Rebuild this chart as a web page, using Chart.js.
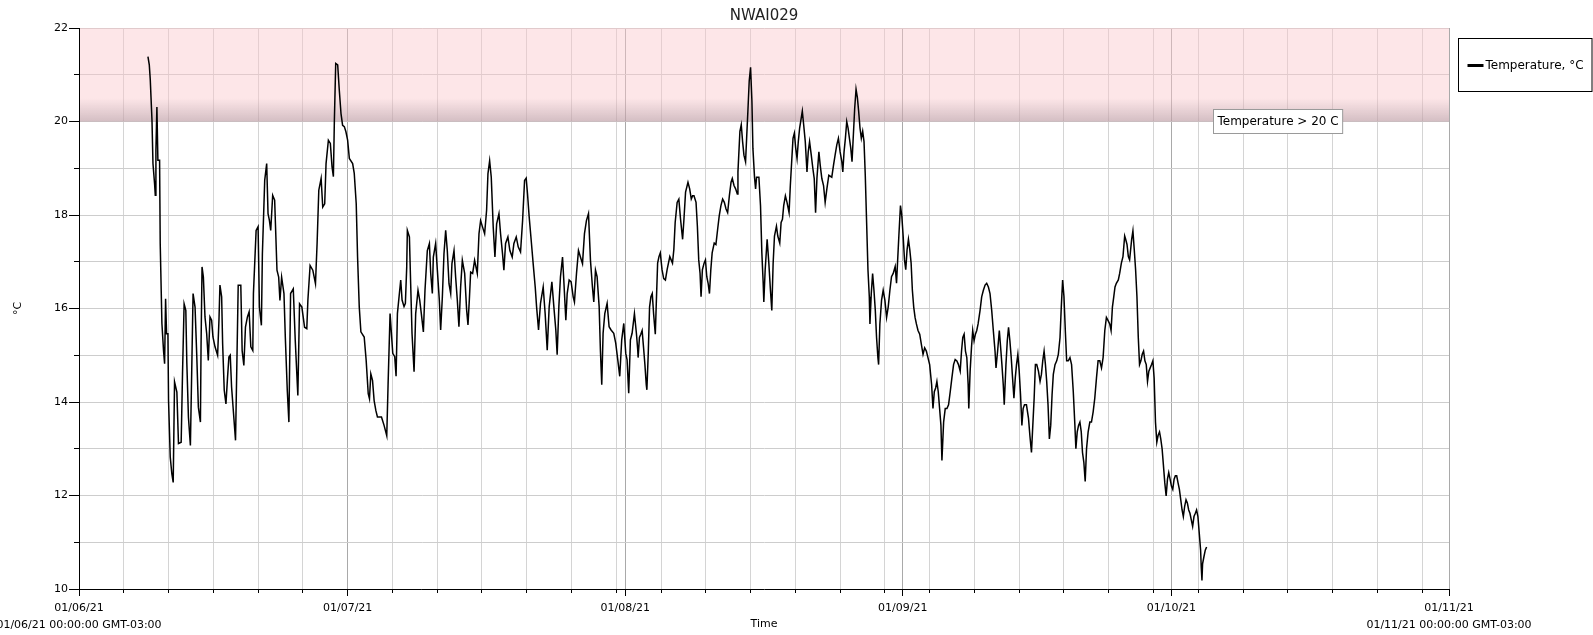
<!DOCTYPE html>
<html>
<head>
<meta charset="utf-8">
<title>NWAI029</title>
<script src="https://cdn.jsdelivr.net/npm/chart.js@4.4.1/dist/chart.umd.min.js"></script>
<style>
  html, body { margin: 0; padding: 0; background: #fff; }
  #wrap { width: 1593px; height: 635px; position: relative; }
</style>
</head>
<body>
<div id="wrap"><canvas id="tempChart"></canvas></div>
<script>
const chartTitle = 'NWAI029';
const seriesLabel = 'Temperature, °C';
const thresholdText = 'Temperature > 20 C';
const thresholdValue = 20;
const yMin = 10;
const yMax = 22;

// x values are days since 01/06/21 00:00 (GMT-03:00)
const monthDays = [0, 30, 61, 92, 122, 153];
const monthLabels = ['01/06/21', '01/07/21', '01/08/21', '01/09/21', '01/10/21', '01/11/21'];
const edgeLabels = ['01/06/21 00:00:00 GMT-03:00', '01/11/21 00:00:00 GMT-03:00'];
const gridDays = [0, 5, 10, 15, 20, 25, 30, 35, 40, 45, 50, 55, 60, 65, 70, 75, 80, 85, 90, 95, 100, 105, 110, 115, 120, 125, 130, 135, 140, 145, 150];

const days = [
  7.70, 7.85, 7.96, 8.15, 8.26, 8.44, 8.52, 8.59, 8.70, 8.81, 9.00, 9.07, 9.26, 9.44, 9.56, 9.67, 9.78, 9.93,
  10.00, 10.19, 10.37, 10.52, 10.67, 10.93, 11.11, 11.41, 11.56, 11.74, 11.93, 12.04, 12.22, 12.44, 12.59, 12.74, 12.96,
  13.15, 13.33, 13.56, 13.63, 13.74, 13.89, 14.07, 14.26, 14.44, 14.63, 14.81, 14.96, 15.19, 15.48, 15.63, 15.74, 15.93,
  16.04, 16.22, 16.41, 16.59, 16.74, 16.89, 17.04, 17.26, 17.48, 17.63, 17.78, 18.07, 18.22, 18.41, 18.59, 18.81, 19.00,
  19.19, 19.41, 19.48, 19.78, 20.00, 20.15, 20.37, 20.48, 20.74, 20.96, 21.11, 21.26, 21.41, 21.63, 21.85, 22.11, 22.30,
  22.44, 22.63, 22.89, 23.04, 23.26, 23.44, 23.63, 23.93, 24.15, 24.44, 24.63, 24.89, 25.19, 25.44, 25.56, 25.81, 26.11,
  26.41, 26.59, 26.78, 27.04, 27.22, 27.44, 27.59, 27.85, 28.07, 28.26, 28.41, 28.52, 28.67, 28.89, 29.07, 29.26, 29.44,
  29.63, 29.81, 30.00, 30.19, 30.56, 30.74, 30.96, 31.11, 31.30, 31.48, 31.85, 32.07, 32.30, 32.44, 32.59, 32.78, 32.96,
  33.15, 33.33, 33.78, 34.07, 34.37, 34.52, 34.74,
  35.04, 35.26, 35.41, 35.56, 35.78, 35.93, 36.08, 36.30, 36.45, 36.60, 36.67, 36.90, 37.04, 37.19, 37.42, 37.60, 37.86,
  38.05, 38.23, 38.46, 38.64, 38.90, 39.13, 39.28, 39.46, 39.57, 39.83, 40.02, 40.24, 40.39, 40.58, 40.76, 40.95, 41.13,
  41.32, 41.51, 41.65, 41.88, 42.06, 42.25, 42.43, 42.62, 42.81, 43.07, 43.29, 43.44, 43.59, 43.74, 43.96, 44.18, 44.33,
  44.48, 44.67, 44.85, 45.07, 45.30, 45.52, 45.67, 45.86, 46.04, 46.26, 46.45, 46.64, 46.90, 47.08, 47.30, 47.45, 47.64,
  47.90, 48.12, 48.38, 48.57, 48.83, 49.05, 49.31, 49.54, 49.76, 49.94, 50.09, 50.28, 50.50, 50.72, 50.95, 51.10, 51.32,
  51.54, 51.84, 52.06, 52.29, 52.51, 52.81, 53.03, 53.25, 53.40, 53.59, 53.77, 54.00, 54.14, 54.37, 54.52, 54.74, 54.96,
  55.19, 55.33, 55.56, 55.78, 56.00, 56.23, 56.45, 56.67, 56.90, 57.12, 57.34, 57.49, 57.68, 57.86, 58.09, 58.23, 58.38,
  58.53, 58.72, 58.98, 59.20, 59.42, 59.72, 59.94, 60.17, 60.39, 60.61, 60.84, 61.06, 61.21, 61.39, 61.58, 61.77, 62.03,
  62.25, 62.40,
  62.44, 62.59, 62.74, 62.89, 63.05, 63.20, 63.35, 63.42, 63.57, 63.72, 63.87, 64.02, 64.17, 64.36, 64.47, 64.62, 64.77,
  64.92, 65.11, 65.30, 65.49, 65.68, 65.98, 66.13, 66.28, 66.43, 66.58, 66.80, 66.99, 67.18, 67.41, 67.56, 67.74, 68.01,
  68.20, 68.38, 68.53, 68.68, 68.91, 69.06, 69.21, 69.36, 69.47, 69.62, 69.81, 69.96, 70.11, 70.26, 70.41, 70.56, 70.71,
  70.94, 71.13, 71.32, 71.50, 71.69, 71.88, 72.07, 72.26, 72.44, 72.63, 72.82,
  72.96, 73.15, 73.33, 73.52, 73.59, 73.81, 73.96, 74.11, 74.26, 74.44, 74.56, 74.70, 74.85, 75.00, 75.15, 75.26, 75.44,
  75.56, 75.67, 75.93, 76.11, 76.26, 76.41, 76.48, 76.63, 76.85, 77.04, 77.22, 77.37, 77.52, 77.67, 77.89, 78.04, 78.26,
  78.41, 78.56, 78.70, 78.89, 79.07, 79.30, 79.44, 79.59, 79.74, 79.89, 80.04, 80.19, 80.33, 80.48, 80.63, 80.78, 80.93,
  81.11, 81.30, 81.44, 81.59, 81.78, 81.96, 82.11, 82.26, 82.41, 82.63, 82.78, 82.96, 83.15, 83.33, 83.52, 83.74,
  84.07, 84.26, 84.44, 84.63, 84.81, 85.00, 85.19, 85.30, 85.44, 85.59, 85.74, 85.89, 86.04, 86.19, 86.33, 86.48, 86.63,
  86.78, 86.93, 87.07, 87.22, 87.37, 87.52, 87.67, 87.81, 87.96, 88.11, 88.26, 88.33, 88.48, 88.63, 88.78, 88.93, 89.07,
  89.22, 89.30, 89.44, 89.63, 89.81, 90.00, 90.19, 90.37, 90.56, 90.74, 90.93, 91.15, 91.30, 91.41, 91.56, 91.74, 91.89,
  92.04, 92.19, 92.33, 92.48, 92.63, 92.78, 92.93, 93.07, 93.22, 93.37, 93.52, 93.70, 93.89, 94.07, 94.26, 94.44, 94.63,
  94.81, 95.00,
  95.22, 95.37, 95.52, 95.67, 95.81, 95.96, 96.11, 96.26, 96.37, 96.56, 96.74, 96.93, 97.11, 97.30, 97.48, 97.67, 97.85,
  98.04, 98.22, 98.41, 98.56, 98.70, 98.85, 99.00, 99.15, 99.30, 99.37, 99.52, 99.67, 99.81, 99.96, 100.11, 100.26, 100.41,
  100.63, 100.81, 101.00, 101.19, 101.37, 101.56, 101.74, 101.93, 102.11, 102.30, 102.41, 102.59, 102.78, 102.93, 103.07,
  103.22, 103.33, 103.52, 103.67, 103.81, 103.96, 104.11, 104.26, 104.41, 104.56, 104.70, 104.85, 105.00, 105.15, 105.30,
  105.44, 105.59, 105.81, 106.04, 106.19,
  106.37, 106.52, 106.67, 106.81, 106.96, 107.15, 107.33, 107.48, 107.63, 107.78, 107.93, 108.07, 108.22, 108.37, 108.52,
  108.67, 108.81, 109.00, 109.19, 109.37, 109.56, 109.70, 109.85, 110.00, 110.15, 110.30, 110.48, 110.67, 110.85, 111.04,
  111.22, 111.33, 111.48, 111.63, 111.78, 111.93, 112.07, 112.22, 112.37, 112.52, 112.70, 112.89, 113.07, 113.26, 113.44,
  113.63, 113.81, 114.00, 114.19, 114.37, 114.56, 114.74, 114.93, 115.11, 115.26, 115.41, 115.56, 115.70, 115.85, 116.07,
  116.22, 116.41, 116.59, 116.78, 116.89, 117.04, 117.19, 117.33,
  117.56, 117.70, 117.85, 118.00, 118.15, 118.30, 118.44, 118.59, 118.74, 118.89, 119.04, 119.19, 119.33, 119.48, 119.63,
  119.78, 119.93, 120.07, 120.22, 120.37, 120.52, 120.67, 120.81, 120.96, 121.11, 121.26, 121.41, 121.56, 121.70, 121.85,
  122.00, 122.15, 122.30, 122.44, 122.59, 122.74, 122.89, 123.04, 123.19, 123.33, 123.48, 123.63, 123.78, 123.93, 124.07,
  124.22, 124.37, 124.52, 124.67, 124.81, 124.96, 125.11, 125.26, 125.33, 125.41, 125.48, 125.63, 125.78, 125.93
];

const temps = [
  21.39, 21.21, 20.89, 20.03, 19.10, 18.67, 18.42, 19.39, 20.31, 19.17, 19.17, 17.39, 15.68, 15.10, 14.82, 16.21, 15.46, 15.46,
  14.03, 12.82, 12.46, 12.28, 14.43, 14.21, 13.11, 13.14, 14.60, 16.10, 15.96, 14.85, 13.68, 13.07, 14.68, 16.32, 16.03,
  15.00, 13.89, 13.57, 15.18, 16.89, 16.67, 15.82, 15.46, 14.89, 15.82, 15.75, 15.39, 15.18, 15.00, 15.75, 16.50, 16.25,
  15.25, 14.25, 13.96, 14.53, 14.96, 15.00, 14.32, 13.75, 13.18, 14.82, 16.50, 16.50, 15.10, 14.78, 15.60, 15.82, 15.93,
  15.18, 15.10, 16.32, 17.67, 17.75, 16.03, 15.64, 17.17, 18.74, 19.10, 18.03, 17.89, 17.67, 18.42, 18.32, 16.82, 16.67,
  16.17, 16.67, 16.32, 15.39, 14.25, 13.57, 16.32, 16.42, 15.32, 14.14, 16.10, 16.03, 15.60, 15.57, 16.17, 16.92, 16.82,
  16.53, 17.39, 18.53, 18.78, 18.17, 18.24, 19.10, 19.60, 19.53, 19.03, 18.82, 20.03, 21.24, 21.21, 20.67, 20.17, 19.92,
  19.89, 19.78, 19.60, 19.21, 19.10, 18.89, 18.24, 17.10, 16.03, 15.50, 15.39, 14.89, 14.18, 14.07, 14.60, 14.46, 14.03,
  13.82, 13.68, 13.68, 13.50, 13.28, 14.39, 15.89,
  15.04, 14.97, 14.55, 15.89, 16.32, 16.61, 16.18, 16.04, 16.11, 16.89, 17.67, 17.53, 16.53, 15.47, 14.65, 15.89, 16.39,
  16.18, 15.89, 15.50, 16.39, 17.24, 17.39, 16.75, 16.32, 17.10, 17.39, 16.82, 16.18, 15.54, 16.25, 17.17, 17.67, 17.24,
  16.53, 16.32, 16.96, 17.24, 16.68, 16.18, 15.61, 16.46, 17.03, 16.75, 15.97, 15.65, 16.18, 16.78, 16.75, 17.03, 16.89,
  16.75, 17.60, 17.88, 17.74, 17.60, 18.10, 18.88, 19.16, 18.81, 17.74, 17.10, 17.81, 18.03, 17.60, 17.17, 16.82, 17.39,
  17.53, 17.24, 17.10, 17.39, 17.53, 17.32, 17.21, 17.88, 18.74, 18.79, 18.45, 17.95, 17.46, 16.96, 16.46, 16.04, 15.54,
  16.11, 16.46, 15.89, 15.11, 16.04, 16.57, 16.04, 15.54, 15.01, 16.04, 16.68, 17.10, 16.61, 15.75, 16.32, 16.61, 16.57,
  16.25, 16.14, 16.75, 17.24, 17.10, 16.96, 17.60, 17.88, 18.03, 17.03, 16.46, 16.14, 16.82, 16.68, 16.04, 15.11, 14.37,
  15.47, 15.89, 16.11, 15.61, 15.54, 15.47, 15.26, 14.90, 14.55, 15.33, 15.68, 15.04, 14.90, 14.19, 15.33, 15.47, 15.89,
  15.47, 15.11,
  14.95, 15.38, 15.45, 15.53, 15.16, 14.80, 14.37, 14.26, 15.02, 16.03, 16.25, 16.32, 15.89, 15.45, 16.10, 16.97, 17.11,
  17.19, 16.83, 16.64, 16.61, 16.83, 17.11, 17.04, 16.97, 17.26, 17.84, 18.27, 18.34, 17.91, 17.48, 17.91, 18.49, 18.70,
  18.56, 18.34, 18.41, 18.41, 18.27, 17.76, 17.04, 16.75, 16.25, 16.83, 16.97, 17.04, 16.68, 16.54, 16.32, 16.83, 17.19,
  17.40, 17.37, 17.69, 17.98, 18.20, 18.34, 18.27, 18.13, 18.05, 18.41, 18.70,
  18.78, 18.63, 18.56, 18.45, 18.92, 19.79, 19.93, 19.57, 19.28, 19.14, 19.64, 20.22, 20.87, 21.16, 20.44, 19.43, 18.81,
  18.56, 18.81, 18.81, 18.20, 17.19, 16.54, 16.14, 16.83, 17.48, 16.97, 16.39, 15.96, 16.97, 17.55, 17.76, 17.55, 17.40,
  17.84, 17.91, 18.20, 18.41, 18.27, 18.05, 18.63, 19.14, 19.64, 19.75, 19.43, 19.21, 19.57, 19.86, 20.04, 20.22, 19.93,
  19.57, 18.92, 19.35, 19.57, 19.28, 18.99, 18.78, 18.05, 18.78, 19.35, 19.06, 18.78, 18.63, 18.27, 18.56, 18.85,
  18.81, 19.06, 19.28, 19.50, 19.64, 19.35, 19.14, 18.92, 19.35, 19.64, 20.00, 19.86, 19.64, 19.43, 19.14, 19.71, 20.29,
  20.69, 20.51, 20.22, 19.86, 19.64, 19.79, 19.57, 18.85, 17.84, 16.83, 16.25, 15.67, 16.32, 16.75, 16.39, 15.96, 15.38,
  14.95, 14.80, 15.67, 16.18, 16.39, 16.18, 15.81, 16.03, 16.39, 16.68, 16.75, 16.90, 16.54, 16.97, 17.55, 18.20, 17.98,
  17.55, 17.04, 16.83, 17.26, 17.48, 17.26, 16.97, 16.39, 16.03, 15.81, 15.67, 15.53, 15.45, 15.24, 15.02, 15.16, 15.09,
  14.95, 14.80,
  14.37, 13.86, 14.22, 14.30, 14.44, 14.22, 13.86, 13.50, 12.75, 13.57, 13.86, 13.86, 13.94, 14.22, 14.51, 14.80, 14.91,
  14.88, 14.80, 14.66, 15.09, 15.38, 15.45, 15.09, 14.95, 14.37, 13.86, 14.66, 15.16, 15.53, 15.31, 15.45, 15.53, 15.67,
  15.96, 16.25, 16.39, 16.50, 16.54, 16.46, 16.32, 15.96, 15.53, 15.09, 14.73, 15.09, 15.53, 15.16, 14.80,
  14.37, 13.94, 14.80, 15.31, 15.60, 15.31, 14.95, 14.51, 14.08, 14.51, 14.80, 15.02, 14.66, 14.15, 13.50,
  13.86, 13.94, 13.94, 13.65, 13.29,
  12.92, 13.50, 14.08, 14.80, 14.80, 14.66, 14.44, 14.59, 14.88, 15.09, 14.80, 14.44, 13.94, 13.21, 13.50,
  14.15, 14.59, 14.80, 14.88, 15.02, 15.38, 16.03, 16.61, 16.25, 15.53, 14.88, 14.88, 14.95, 14.80, 14.22,
  13.50, 13.00, 13.36, 13.50, 13.57, 13.36, 12.92, 12.71, 12.30, 13.00, 13.36, 13.57, 13.57, 13.79, 14.08,
  14.51, 14.88, 14.88, 14.73, 14.95, 15.53, 15.81, 15.74, 15.67, 15.53, 16.03, 16.25, 16.46, 16.54, 16.61,
  16.75, 16.97, 17.11, 17.55, 17.48, 17.37, 17.11, 17.04,
  17.48, 17.66, 17.26, 16.83, 16.25, 15.38, 14.80, 14.88, 15.02, 15.09, 14.88, 14.80, 14.44, 14.66, 14.73,
  14.80, 14.88, 14.51, 13.57, 13.14, 13.29, 13.36, 13.21, 13.00, 12.64, 12.27, 11.99, 12.35, 12.49, 12.35,
  12.20, 12.13, 12.35, 12.42, 12.42, 12.27, 12.13, 11.91, 11.69, 11.55, 11.77, 11.91, 11.84, 11.69, 11.62,
  11.48, 11.34, 11.55, 11.62, 11.69, 11.55, 11.19, 10.83, 10.47, 10.18, 10.54, 10.69, 10.83, 10.90
];

const FONT = '"DejaVu Sans", Verdana, sans-serif';
const tickDays = [...new Set(gridDays.concat(monthDays))].sort((a, b) => a - b);

function xLabel(value) {
  const i = monthDays.indexOf(value);
  if (i === -1) return '';
  if (i === 0) return [monthLabels[i], edgeLabels[0]];
  if (i === monthDays.length - 1) return [monthLabels[i], edgeLabels[1]];
  return monthLabels[i];
}

function align(px) {
  return Math.round(px + 0.5) - 0.5;
}

// pink band above the threshold, drawn over the grid but under the line
const bandPlugin = {
  id: 'band',
  beforeDatasetsDraw(chart) {
    const c = chart.ctx;
    const a = chart.chartArea;
    const ys = chart.scales.y;
    const top = ys.getPixelForValue(yMax);
    const bottom = ys.getPixelForValue(thresholdValue);
    const fadeTop = ys.getPixelForValue(thresholdValue + 0.5);
    c.save();
    c.fillStyle = 'rgba(250, 200, 205, 0.45)';
    c.fillRect(a.left + 1, top, a.right - a.left - 1, bottom - top);
    const g = c.createLinearGradient(0, fadeTop, 0, bottom);
    g.addColorStop(0, 'rgba(150, 130, 140, 0)');
    g.addColorStop(1, 'rgba(150, 130, 140, 0.4)');
    c.fillStyle = g;
    c.fillRect(a.left + 1, fadeTop, a.right - a.left - 1, bottom - fadeTop);
    c.restore();
  }
};

// title, minor ticks, threshold label and legend box
const decorPlugin = {
  id: 'decor',
  afterDraw(chart) {
    const c = chart.ctx;
    const a = chart.chartArea;
    const xs = chart.scales.x;
    const ys = chart.scales.y;
    c.save();

    c.strokeStyle = '#000';
    c.lineWidth = 1;
    c.beginPath();
    gridDays.forEach(d => {
      if (monthDays.includes(d)) return;
      const px = align(xs.getPixelForValue(d));
      c.moveTo(px, a.bottom);
      c.lineTo(px, a.bottom + 4);
    });
    for (let v = yMin + 1; v < yMax; v += 2) {
      const py = align(ys.getPixelForValue(v));
      c.moveTo(a.left - 5, py);
      c.lineTo(a.left, py);
    }
    c.stroke();

    c.fillStyle = '#222';
    c.font = '15px ' + FONT;
    c.textAlign = 'center';
    c.textBaseline = 'middle';
    c.fillText(chartTitle, (a.left + a.right) / 2, 16);

    // threshold label
    c.font = '12px ' + FONT;
    c.textAlign = 'left';
    const lw = c.measureText(thresholdText).width + 8;
    const lx = Math.round(xs.getPixelForValue(126.6)) + 0.5;
    const ly = Math.round(ys.getPixelForValue(thresholdValue) - 12) + 0.5;
    c.fillStyle = '#fff';
    c.fillRect(lx, ly, lw, 24);
    c.strokeStyle = '#9a9a9a';
    c.strokeRect(lx, ly, lw, 24);
    c.fillStyle = '#000';
    c.fillText(thresholdText, lx + 4, ly + 12);

    // legend
    const bx = a.right + 9.5;
    const by = 38.5;
    c.strokeStyle = '#000';
    c.lineWidth = 1;
    c.strokeRect(bx, by, chart.width - bx - 1, 53);
    c.lineWidth = 3;
    c.beginPath();
    c.moveTo(bx + 9, by + 27);
    c.lineTo(bx + 25, by + 27);
    c.stroke();
    c.fillStyle = '#000';
    c.font = '12px ' + FONT;
    c.fillText(chart.data.datasets[0].label, bx + 27, by + 27);

    c.restore();
  }
};

Chart.defaults.font.family = FONT;
Chart.defaults.color = '#000';

const ctx = document.getElementById('tempChart').getContext('2d');
new Chart(ctx, {
  type: 'line',
  data: {
    datasets: [{
      label: seriesLabel,
      data: days.map((d, i) => ({x: d, y: temps[i]})),
      borderColor: '#000',
      borderWidth: 1.5,
      pointRadius: 0,
      tension: 0,
      fill: false
    }]
  },
  options: {
    responsive: true,
    maintainAspectRatio: false,
    animation: false,
    layout: {padding: {top: 28, right: 144, left: 0, bottom: 0}},
    plugins: {
      legend: {display: false},
      title: {display: false},
      tooltip: {enabled: false}
    },
    scales: {
      x: {
        type: 'linear',
        min: 0,
        max: 153,
        afterBuildTicks: scale => { scale.ticks = tickDays.map(v => ({value: v})); },
        afterFit: scale => { scale.height = 46; scale.paddingLeft = 0; scale.paddingRight = 0; },
        ticks: {
          autoSkip: false,
          maxRotation: 0,
          minRotation: 0,
          padding: 3.5,
          font: {size: 11, lineHeight: 17 / 11},
          callback: value => xLabel(value)
        },
        grid: {
          color: c => monthDays.includes(c.tick && c.tick.value) ? '#a9a9a9' : '#d4d4d4',
          tickLength: 7,
          tickColor: c => monthDays.includes(c.tick && c.tick.value) ? '#000' : 'rgba(0,0,0,0)'
        },
        border: {color: '#000'},
        title: {display: true, text: 'Time', font: {size: 11}, padding: {top: 0, bottom: 4.4}}
      },
      y: {
        min: yMin,
        max: yMax,
        afterFit: scale => { scale.width = 79; },
        ticks: {
          stepSize: 1,
          padding: 1,
          font: {size: 11},
          callback: value => (value % 2 === 0 ? value : '')
        },
        grid: {
          color: '#cdcdcd',
          tickLength: 10,
          tickColor: c => (c.tick && c.tick.value % 2 === 0) ? '#000' : 'rgba(0,0,0,0)'
        },
        border: {color: '#000'},
        title: {display: true, text: '°C', font: {size: 11}, padding: {top: 11.4, bottom: 0}}
      }
    }
  },
  plugins: [bandPlugin, decorPlugin]
});
</script>
</body>
</html>
